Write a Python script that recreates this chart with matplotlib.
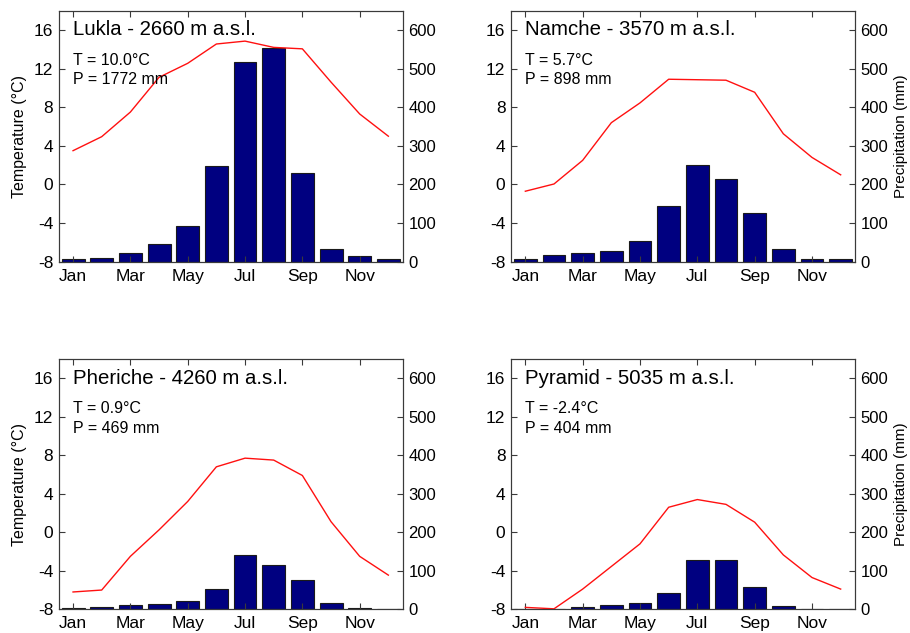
import matplotlib
matplotlib.use("Agg")
import matplotlib.pyplot as plt

plt.rcParams['font.family'] = ['Liberation Sans', 'DejaVu Sans']
plt.rcParams['axes.unicode_minus'] = False

months = list(range(1, 13))
tick_months = [1, 3, 5, 7, 9, 11]
tick_labels = ["Jan", "Mar", "May", "Jul", "Sep", "Nov"]

stations = ["Lukla - 2660 m a.s.l.", "Namche - 3570 m a.s.l.",
            "Pheriche - 4260 m a.s.l.", "Pyramid - 5035 m a.s.l."]
annual_T = ["T = 10.0°C", "T = 5.7°C", "T = 0.9°C", "T = -2.4°C"]
annual_P = ["P = 1772 mm", "P = 898 mm", "P = 469 mm", "P = 404 mm"]

temp_lukla = [3.5, 4.95, 7.5, 11.1, 12.55, 14.55, 14.85, 14.2, 14.05, 10.6, 7.3, 5.0]
temp_namche = [-0.7, 0.05, 2.5, 6.4, 8.45, 10.9, 10.85, 10.8, 9.55, 5.25, 2.8, 1.0]
temp_pheriche = [-6.2, -6.0, -2.5, 0.25, 3.2, 6.8, 7.7, 7.5, 5.9, 1.1, -2.5, -4.45]
temp_pyramid = [-7.8, -7.95, -5.9, -3.55, -1.2, 2.6, 3.4, 2.9, 1.05, -2.35, -4.7, -5.9]

prec_lukla = [7, 9.5, 22, 45, 92, 247, 518, 554, 230, 34, 16, 7]
prec_namche = [8, 18, 22, 29, 54, 144, 250, 213, 125, 34, 6, 6]
prec_pheriche = [3, 6.5, 11, 14, 21, 54, 141, 116, 75, 16, 3, 1]
prec_pyramid = [1, 1, 5, 10, 16, 43, 127, 128, 59, 8, 1.5, 1]

temps = [temp_lukla, temp_namche, temp_pheriche, temp_pyramid]
precs = [prec_lukla, prec_namche, prec_pheriche, prec_pyramid]

fig = plt.figure(figsize=(9.1, 6.33), dpi=100)

W, H = 910, 633
positions = [
    (58.7, 10.7, 402.7, 261.7),
    (511.0, 10.7, 855.0, 261.7),
    (58.7, 359.0, 402.7, 609.3),
    (511.0, 359.0, 855.0, 609.3),
]

spine_col = '#3a3a3a'
for i in range(4):
    x0, y0, x1, y1 = positions[i]
    rect = [x0 / W, 1 - y1 / H, (x1 - x0) / W, (y1 - y0) / H]
    ax = fig.add_axes(rect)
    ax2 = ax.twinx()
    ax.set_zorder(ax2.get_zorder() + 1)
    ax.patch.set_visible(False)

    ax2.bar(months, precs[i], width=0.8, color='#000080', edgecolor='#1a1a1a', linewidth=0.8)
    ax.plot(months, temps[i], color='#ff1010', linewidth=1.0)

    ax.set_xlim(0.5, 12.5)
    ax.set_ylim(-8, 18)
    ax2.set_ylim(0, 650)
    ax.set_yticks([-8, -4, 0, 4, 8, 12, 16])
    ax2.set_yticks([0, 100, 200, 300, 400, 500, 600])
    ax.set_xticks(tick_months)
    ax.set_xticklabels(tick_labels)

    ax.tick_params(axis='both', direction='in', top=True, right=False,
                   labelsize=12.5, length=4, color=spine_col, width=0.8)
    ax.tick_params(axis='x', pad=5)
    ax.tick_params(axis='y', pad=4)
    ax2.tick_params(axis='y', direction='in', labelsize=12, length=4,
                    color=spine_col, width=0.8, pad=4)
    for a in (ax, ax2):
        for s in a.spines.values():
            s.set_color(spine_col)
            s.set_linewidth(0.8)

    ax.text(1.0, 17.0, stations[i], fontsize=14.7, va='top', ha='left')
    ax.text(1.0, 13.6, annual_T[i], fontsize=11.5, va='top', ha='left')
    ax.text(1.0, 11.6, annual_P[i], fontsize=11.5, va='top', ha='left')

    if i % 2 == 0:
        ax.set_ylabel("Temperature (°C)", fontsize=11.5, labelpad=5)
    else:
        ax2.set_ylabel("Precipitation (mm)", fontsize=11, labelpad=4)

fig.savefig("out.png", dpi=100)
